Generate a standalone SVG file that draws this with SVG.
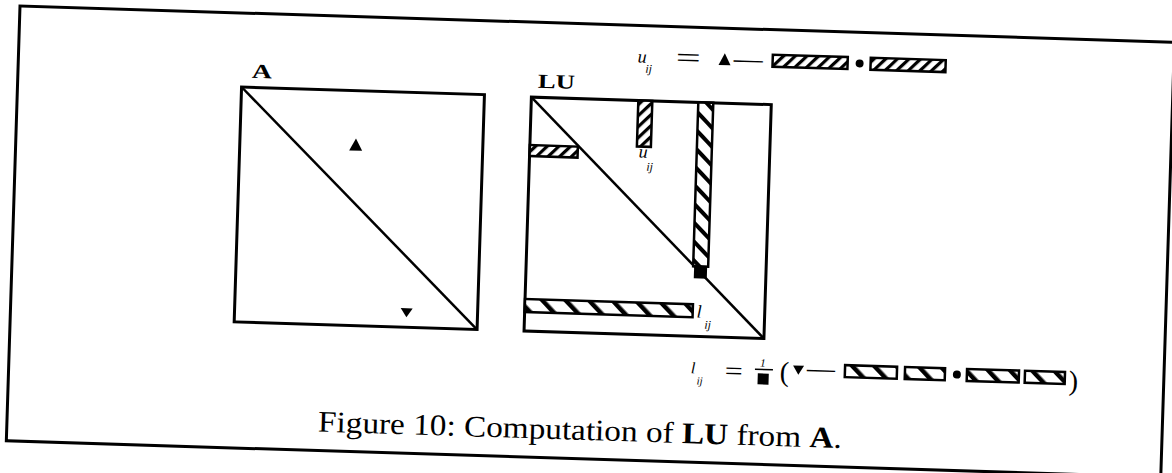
<svg xmlns="http://www.w3.org/2000/svg" width="1172" height="473" viewBox="0 0 1172 473">
<style>
.ln{fill:none;stroke:#000;stroke-width:3}
.dg{fill:none;stroke:#000;stroke-width:2.5}
.hb{stroke:#000;stroke-width:2.5}
.lbl{font-family:"Liberation Serif",serif;font-weight:bold;font-size:20px;fill:#000}
.mi{font-family:"Liberation Serif",serif;font-style:italic;fill:#000}
.mr{font-family:"Liberation Serif",serif;fill:#000}
.cap{font-family:"Liberation Serif",serif;font-size:30px;fill:#000}
</style>
<defs>
<pattern id="hU" patternUnits="userSpaceOnUse" width="8" height="8" patternTransform="rotate(45)"><rect width="8" height="8" fill="#fff"/><rect width="3.2" height="8" fill="#000"/></pattern>
<pattern id="hV" patternUnits="userSpaceOnUse" width="13" height="13" patternTransform="rotate(-45)"><rect width="13" height="13" fill="#fff"/><rect width="4" height="13" fill="#000"/></pattern>
<pattern id="hL" patternUnits="userSpaceOnUse" width="17" height="17" patternTransform="rotate(-45)"><rect width="17" height="17" fill="#fff"/><rect width="4.5" height="17" fill="#000"/></pattern>
<pattern id="hF" patternUnits="userSpaceOnUse" width="16" height="16" patternTransform="rotate(-45)"><rect width="16" height="16" fill="#fff"/><rect width="4.5" height="16" fill="#000"/></pattern>
</defs>
<rect width="1172" height="473" fill="#fff"/>
<g transform="rotate(1.8 20 6)">
<g id="frame"><rect class="ln" x="20" y="6" width="1155" height="435"/></g>
<g id="matrix-A">
<text class="lbl" x="254" y="70.5" textLength="20" lengthAdjust="spacingAndGlyphs">A</text>
<rect class="ln" x="244" y="80" width="243" height="235"/>
<line class="dg" x1="244" y1="80" x2="487" y2="315"/>
<polygon points="353.5,140 366.5,140 360,128"/>
<polygon points="410,296 422,296 416,305"/>
</g>
<g id="matrix-LU">
<text class="lbl" x="540" y="71.5" textLength="37" lengthAdjust="spacingAndGlyphs">LU</text>
<rect class="ln" x="534" y="81" width="240" height="234"/>
<line class="dg" x1="534" y1="81" x2="774" y2="315"/>
<rect class="hb" fill="url(#hU)" x="534" y="129" width="48" height="11"/>
<rect class="hb" fill="url(#hU)" x="641" y="81" width="14" height="46"/>
<rect class="hb" fill="url(#hV)" x="701" y="81" width="15" height="164"/>
<rect x="702" y="244" width="13" height="13" fill="#000"/>
<rect class="hb" fill="url(#hL)" x="534" y="283" width="168" height="13"/>
<text class="mi" x="643" y="138" font-size="18">u</text>
<text class="mi" x="651" y="151" font-size="12">ij</text>
<text class="mi" x="706" y="296" font-size="18">l</text>
<text class="mi" x="714" y="307" font-size="12">ij</text>
</g>
<g id="formula-u">
<text class="mi" x="639" y="43" font-size="18">u</text>
<text class="mi" x="647" y="53" font-size="12">ij</text>
<text class="mr" x="677" y="46" font-size="28" textLength="25" lengthAdjust="spacingAndGlyphs">=</text>
<polygon points="720,43 732,43 726,31"/>
<text class="mr" x="735" y="45" font-size="28" textLength="29" lengthAdjust="spacingAndGlyphs">—</text>
<rect class="hb" fill="url(#hU)" x="774" y="31" width="75" height="12"/>
<circle cx="861" cy="37" r="4"/>
<rect class="hb" fill="url(#hU)" x="872" y="31" width="75" height="12"/>
</g>
<g id="formula-l">
<text class="mi" x="702" y="352" font-size="16">l</text>
<text class="mi" x="708" y="363" font-size="11">ij</text>
<text class="mr" x="736" y="357" font-size="26" textLength="18" lengthAdjust="spacingAndGlyphs">=</text>
<text class="mi" x="771" y="343" font-size="11">1</text>
<line x1="766" y1="346" x2="784" y2="346" stroke="#000" stroke-width="1.5"/>
<rect x="769" y="350" width="11" height="11"/>
<text class="mr" x="791" y="357" font-size="28">(</text>
<polygon points="804,341 815,341 809.5,350"/>
<text class="mr" x="818" y="352" font-size="28" textLength="28" lengthAdjust="spacingAndGlyphs">—</text>
<rect class="hb" fill="url(#hF)" x="856" y="339" width="52" height="12"/>
<rect class="hb" fill="url(#hF)" x="916" y="339" width="40" height="12"/>
<circle cx="968" cy="345" r="4"/>
<rect class="hb" fill="url(#hF)" x="978" y="339" width="52" height="12"/>
<rect class="hb" fill="url(#hF)" x="1036" y="339" width="40" height="12"/>
<text class="mr" x="1080" y="357" font-size="28">)</text>
</g>
<g id="caption"><text class="cap" x="331" y="422" textLength="524" lengthAdjust="spacingAndGlyphs">Figure 10: Computation of <tspan font-weight="bold">LU</tspan> from <tspan font-weight="bold">A</tspan>.</text></g>
<g id="connectors"/>
</g>
</svg>
